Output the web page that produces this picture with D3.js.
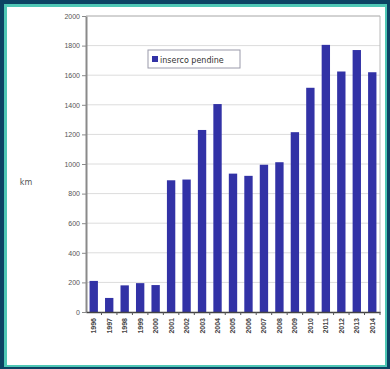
<!DOCTYPE html>
<html>
<head>
<meta charset="utf-8">
<script src="https://cdn.jsdelivr.net/npm/d3@7"></script>
<style>
  body { margin: 0; background: #0c4363; }
  svg { display: block; font-family: "DejaVu Sans", sans-serif; }
</style>
</head>
<body>
<div id="chart"></div>
<script>
var years = ["1996", "1997", "1998", "1999", "2000", "2001", "2002", "2003", "2004", "2005",
             "2006", "2007", "2008", "2009", "2010", "2011", "2012", "2013", "2014"];
var km = [210, 95, 180, 195, 182, 890, 895, 1230, 1405, 935,
          920, 995, 1012, 1215, 1515, 1805, 1625, 1770, 1620];
var yTicks = [0, 200, 400, 600, 800, 1000, 1200, 1400, 1600, 1800, 2000];
var seriesName = "inserco pendine";
var yLabel = "km";

var W = 390, H = 369;
var margin = {top: 16, right: 10, bottom: 57, left: 86};
var width = 380 - margin.left;
var height = 312 - margin.top;

var svg = d3.select("#chart").append("svg")
    .attr("width", W)
    .attr("height", H);

// frame
svg.append("rect").attr("width", W).attr("height", H).attr("fill", "#0c4363");
svg.append("rect").attr("x", 4).attr("y", 4).attr("width", W - 7).attr("height", H - 6)
    .attr("fill", "#4fc7b5");
svg.append("rect").attr("x", 7).attr("y", 7).attr("width", W - 12).attr("height", H - 11)
    .attr("fill", "#ffffff");

var g = svg.append("g")
    .attr("transform", "translate(" + margin.left + "," + margin.top + ")");

var x = d3.scaleBand().domain(years).range([0, width]).paddingInner(0.46).paddingOuter(0.23);
var y = d3.scaleLinear().domain([0, 2000]).range([height, 0]);

// grid
g.selectAll(".grid")
  .data(yTicks.slice(1))
  .enter().append("line")
    .attr("x1", 0).attr("x2", width)
    .attr("y1", function(d) { return y(d); })
    .attr("y2", function(d) { return y(d); })
    .attr("stroke", "#dcdcdc").attr("stroke-width", 1);

// plot border top / right
g.append("line").attr("x1", 0).attr("x2", width).attr("y1", 0).attr("y2", 0)
  .attr("stroke", "#b8b8b8");
g.append("line").attr("x1", width).attr("x2", width).attr("y1", 0).attr("y2", height)
  .attr("stroke", "#b8b8b8");

// bars
g.selectAll(".bar")
  .data(km)
  .enter().append("rect")
    .attr("class", "bar")
    .attr("x", function(d, i) { return x(years[i]); })
    .attr("width", x.bandwidth())
    .attr("y", function(d) { return y(d); })
    .attr("height", function(d) { return height - y(d); })
    .attr("fill", "#3232a6");

// y axis
var yAxis = g.append("g")
  .call(d3.axisLeft(y).tickValues(yTicks).tickFormat(d3.format("d")).tickSize(4).tickSizeOuter(0));
yAxis.select(".domain").attr("stroke", "#8a8a8a").attr("stroke-width", 2);
yAxis.selectAll(".tick line").attr("stroke", "#8a8a8a");
yAxis.selectAll("text").attr("fill", "#555").style("font-size", "7px").attr("x", -6);

// x axis
var xAxis = g.append("g")
  .attr("transform", "translate(0," + height + ")")
  .call(d3.axisBottom(x).tickSize(3).tickSizeOuter(0));
xAxis.select(".domain").attr("stroke", "#444").attr("stroke-width", 1.5);
xAxis.selectAll(".tick line").attr("stroke", "#555")
  .attr("transform", "translate(" + (x.step() / 2) + ",0)");
xAxis.selectAll("text")
  .attr("fill", "#444")
  .style("font-size", "7px")
  .style("font-weight", "bold")
  .attr("text-anchor", "end")
  .attr("transform", "rotate(-90)")
  .attr("x", -6).attr("y", 0).attr("dy", "0.35em");

// y label
svg.append("text")
  .attr("x", 26).attr("y", 185)
  .attr("text-anchor", "middle")
  .attr("fill", "#555")
  .style("font-size", "8px")
  .text(yLabel);

// legend
var lg = svg.append("g").attr("transform", "translate(148,50)");
lg.append("rect").attr("width", 92).attr("height", 18)
  .attr("fill", "#fff").attr("stroke", "#9a9aaa");
lg.append("rect").attr("x", 4).attr("y", 6).attr("width", 6).attr("height", 6)
  .attr("fill", "#3232a6");
lg.append("text").attr("x", 12).attr("y", 12.5)
  .attr("fill", "#333").style("font-size", "8px")
  .text(seriesName);
</script>
</body>
</html>
